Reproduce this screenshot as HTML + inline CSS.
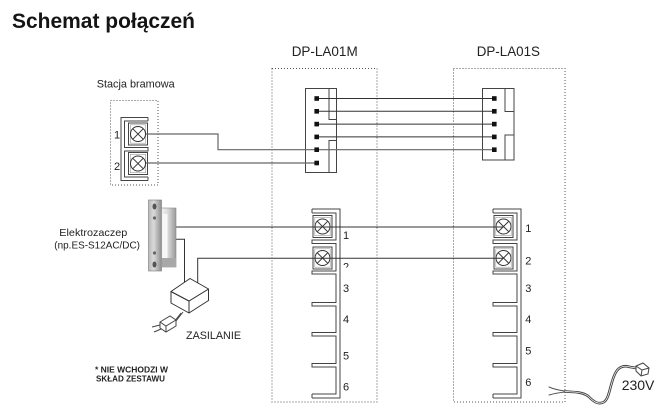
<!DOCTYPE html>
<html><head><meta charset="utf-8"><style>
html,body{margin:0;padding:0;background:#fff;}
svg{display:block;}
text{font-family:"Liberation Sans",Arial,sans-serif;}
</style></head><body>
<svg width="672" height="415" viewBox="0 0 672 415" xmlns="http://www.w3.org/2000/svg">
<defs>
<linearGradient id="plate" x1="0" x2="1" y1="0" y2="0">
<stop offset="0" stop-color="#b8b8b8"/><stop offset="0.4" stop-color="#dadada"/><stop offset="1" stop-color="#8e8e8e"/>
</linearGradient>
<linearGradient id="body" x1="0" x2="1" y1="0" y2="0">
<stop offset="0" stop-color="#f2f2f2"/><stop offset="0.45" stop-color="#d8d8d8"/><stop offset="1" stop-color="#9a9a9a"/>
</linearGradient>
<clipPath id="clip2"><rect x="340" y="255" width="20" height="12.5"/></clipPath>
<g id="term">
<rect x="0" y="0" width="19" height="22" fill="#fff" stroke="#444" stroke-width="1"/>
<rect x="1.8" y="1.8" width="15.4" height="18.4" fill="none" stroke="#999" stroke-width="0.6"/>
<circle cx="9.5" cy="11" r="7.5" fill="#fff" stroke="#333" stroke-width="1"/>
<path d="M4.2,5.7 L14.8,16.3 M14.8,5.7 L4.2,16.3" stroke="#333" stroke-width="1"/>
</g>
<g id="comb" fill="none" stroke="#444" stroke-width="1">
<path d="M312,209 H340 V398 H312 M312,209 V213 M312,394 V398"/>
<path d="M312,213 H336 V240 H312 V243.5 H336 V271 H312 V274 H336 V302.5 H312 V306 H336 V332.5 H312 V336 H336 V363.5 H312 V367 H336 V394 H312"/>
</g>
</defs>

<!-- Title -->
<text x="12" y="28" font-size="21" font-weight="bold" fill="#141414" textLength="183" lengthAdjust="spacingAndGlyphs">Schemat połączeń</text>

<!-- device labels -->
<text x="291.7" y="56" font-size="13.5" fill="#222" textLength="66" lengthAdjust="spacingAndGlyphs">DP-LA01M</text>
<text x="476.7" y="56" font-size="13.5" fill="#222" textLength="63.3" lengthAdjust="spacingAndGlyphs">DP-LA01S</text>
<text x="96.7" y="87.3" font-size="11" fill="#222" textLength="78" lengthAdjust="spacingAndGlyphs">Stacja bramowa</text>

<!-- dotted boxes -->
<g fill="none" stroke="#555" stroke-width="1" stroke-dasharray="1 2">
<rect x="110.5" y="100.5" width="47.5" height="84.5"/>
<rect x="272" y="68.5" width="105" height="333.5"/>
<rect x="453.5" y="68.5" width="111.5" height="333.5"/>
</g>

<!-- Stacja bramowa terminal block -->
<g fill="none" stroke="#444" stroke-width="1">
<path d="M148,117.5 H121 V180.5 H148 M148,117.5 V121 M148,177 V180.5"/>
<path d="M148,121 H124.5 V147.5 H148 V151 H124.5 V177 H148"/>
</g>
<use href="#term" x="128.5" y="123"/>
<use href="#term" x="128.5" y="152.5"/>
<text x="114" y="138.3" font-size="11" fill="#222">1</text>
<text x="114" y="170" font-size="11" fill="#222">2</text>

<!-- Connectors -->
<g fill="none" stroke="#444" stroke-width="1">
<rect x="305.5" y="88.5" width="31" height="84"/>
<path d="M329,88.5 V119.5 H336.5 M336.5,140.5 H329 V172.5"/>
<rect x="482.5" y="88.5" width="31.5" height="71.5"/>
<path d="M505,88.5 V111.5 H514 M514,135 H505 V160"/>
</g>

<!-- wires between connectors -->
<g stroke="#333" stroke-width="1" fill="none">
<path d="M316.7,98.5 H494.3"/>
<path d="M316.7,111.3 H494.3"/>
<path d="M316.7,124.1 H494.3"/>
<path d="M316.7,136.9 H494.3"/>
</g>
<g stroke="#666" stroke-width="1.2" fill="none">
<path d="M146,134 H218 V149.7 H494.3"/>
<path d="M146,163 H316.7"/>
</g>

<!-- pins -->
<g fill="#111">
<rect x="314.4" y="96.2" width="4.6" height="4.6"/>
<rect x="314.4" y="109" width="4.6" height="4.6"/>
<rect x="314.4" y="121.8" width="4.6" height="4.6"/>
<rect x="314.4" y="134.6" width="4.6" height="4.6"/>
<rect x="314.4" y="147.4" width="4.6" height="4.6"/>
<rect x="314.4" y="160.7" width="4.6" height="4.6"/>
<rect x="492" y="96.2" width="4.6" height="4.6"/>
<rect x="492" y="109" width="4.6" height="4.6"/>
<rect x="492" y="121.8" width="4.6" height="4.6"/>
<rect x="492" y="134.6" width="4.6" height="4.6"/>
<rect x="492" y="147.4" width="4.6" height="4.6"/>
</g>

<!-- terminal combs -->
<use href="#comb"/>
<use href="#comb" x="181"/>
<use href="#term" x="313" y="215.5"/>
<use href="#term" x="313" y="247"/>
<use href="#term" x="494" y="215.5"/>
<use href="#term" x="494" y="247"/>

<!-- numbers -->
<g font-size="11" fill="#222">
<text x="343" y="238.8">1</text>
<text x="343" y="270.5" clip-path="url(#clip2)">2</text>
<text x="343" y="292">3</text>
<text x="343" y="323">4</text>
<text x="343" y="359.3">5</text>
<text x="343" y="390.3">6</text>
<text x="525.3" y="232">1</text>
<text x="525.3" y="264.3">2</text>
<text x="525.3" y="292">3</text>
<text x="525.3" y="323">4</text>
<text x="525.3" y="354.3">5</text>
<text x="525.3" y="386">6</text>
</g>

<!-- electric strike wires -->
<g stroke="#333" stroke-width="1" fill="none">
<path d="M176,227 H503.5"/>
<path d="M176,239.3 H184.5 V284"/>
<path d="M197.7,283 V258.3 H503.5"/>
</g>

<!-- Electric strike -->
<rect x="148.5" y="200" width="13" height="71" fill="url(#plate)" stroke="#7a7a7a" stroke-width="0.6"/>
<ellipse cx="154.5" cy="206.5" rx="2" ry="3" fill="#555"/>
<ellipse cx="154.5" cy="264.5" rx="2" ry="3" fill="#555"/>
<circle cx="154.5" cy="218" r="1.6" fill="#666"/>
<circle cx="154.5" cy="253" r="1.6" fill="#666"/>
<rect x="161.5" y="208" width="14.5" height="59" fill="url(#body)" stroke="#888" stroke-width="0.6"/>
<rect x="162.5" y="214" width="5" height="44" fill="#f7f7f7"/>
<rect x="161.5" y="258" width="14.5" height="9" fill="#a8a8a8"/>
<text x="59.3" y="236" font-size="10.5" fill="#222" textLength="68" lengthAdjust="spacingAndGlyphs">Elektrozaczep</text>
<text x="54.3" y="248.3" font-size="10.5" fill="#222" textLength="85.7" lengthAdjust="spacingAndGlyphs">(np.ES-S12AC/DC)</text>

<!-- Power supply box -->
<g fill="#fff" stroke="#333" stroke-width="1" stroke-linejoin="round">
<path d="M171,291.5 L189,301 L189,313 L171,303 Z"/>
<path d="M189,301 L208.5,289 L208.5,300.5 L189,313 Z"/>
<path d="M171,291.5 L190,278.5 L208.5,289 L189,301 Z"/>
</g>
<!-- plug -->
<g fill="none" stroke="#444" stroke-width="1">
<path d="M183,312 L176,321 M181,313 L174,322"/>
<path d="M160,322 L170,316 L176,320 L176,326 L166,332 L160,328 Z" fill="#fff"/>
<path d="M160,322 L166,326 L176,320 M166,326 V332"/>
<path d="M160,325 L152,327 M161,329 L154,332"/>
</g>
<text x="186" y="339" font-size="11" fill="#222" textLength="55" lengthAdjust="spacingAndGlyphs">ZASILANIE</text>

<text x="95" y="372.3" font-size="8" font-weight="bold" fill="#222" textLength="73" lengthAdjust="spacingAndGlyphs">* NIE WCHODZI W</text>
<text x="96" y="381.7" font-size="8" font-weight="bold" fill="#222" textLength="69" lengthAdjust="spacingAndGlyphs">SKŁAD ZESTAWU</text>

<!-- 230V cable -->
<g fill="none" stroke-linecap="round">
<path d="M549,387 Q556,390 565,391 M549,395 Q556,393 565,392" stroke="#555" stroke-width="1"/>
<path d="M565,391.5 C575,392 582,392 588,396 C594,402 598,405 604,402 C610,398 610,382 616,372 C619,367 624,365 630,367 L636,368" stroke="#444" stroke-width="2.6"/>
<path d="M565,391.5 C575,392 582,392 588,396 C594,402 598,405 604,402 C610,398 610,382 616,372 C619,367 624,365 630,367 L636,368" stroke="#fff" stroke-width="0.7"/>
</g>
<g fill="#fff" stroke="#444" stroke-width="1">
<path d="M636,366 L643,363 L649,368 L648,374 L641,376 L636,371 Z"/>
<path d="M636,366 L642,370 L649,368 M642,370 L641,376" fill="none"/>
</g>
<text x="621.7" y="390" font-size="14" fill="#222" textLength="32.7" lengthAdjust="spacingAndGlyphs">230V</text>
</svg>
</body></html>
